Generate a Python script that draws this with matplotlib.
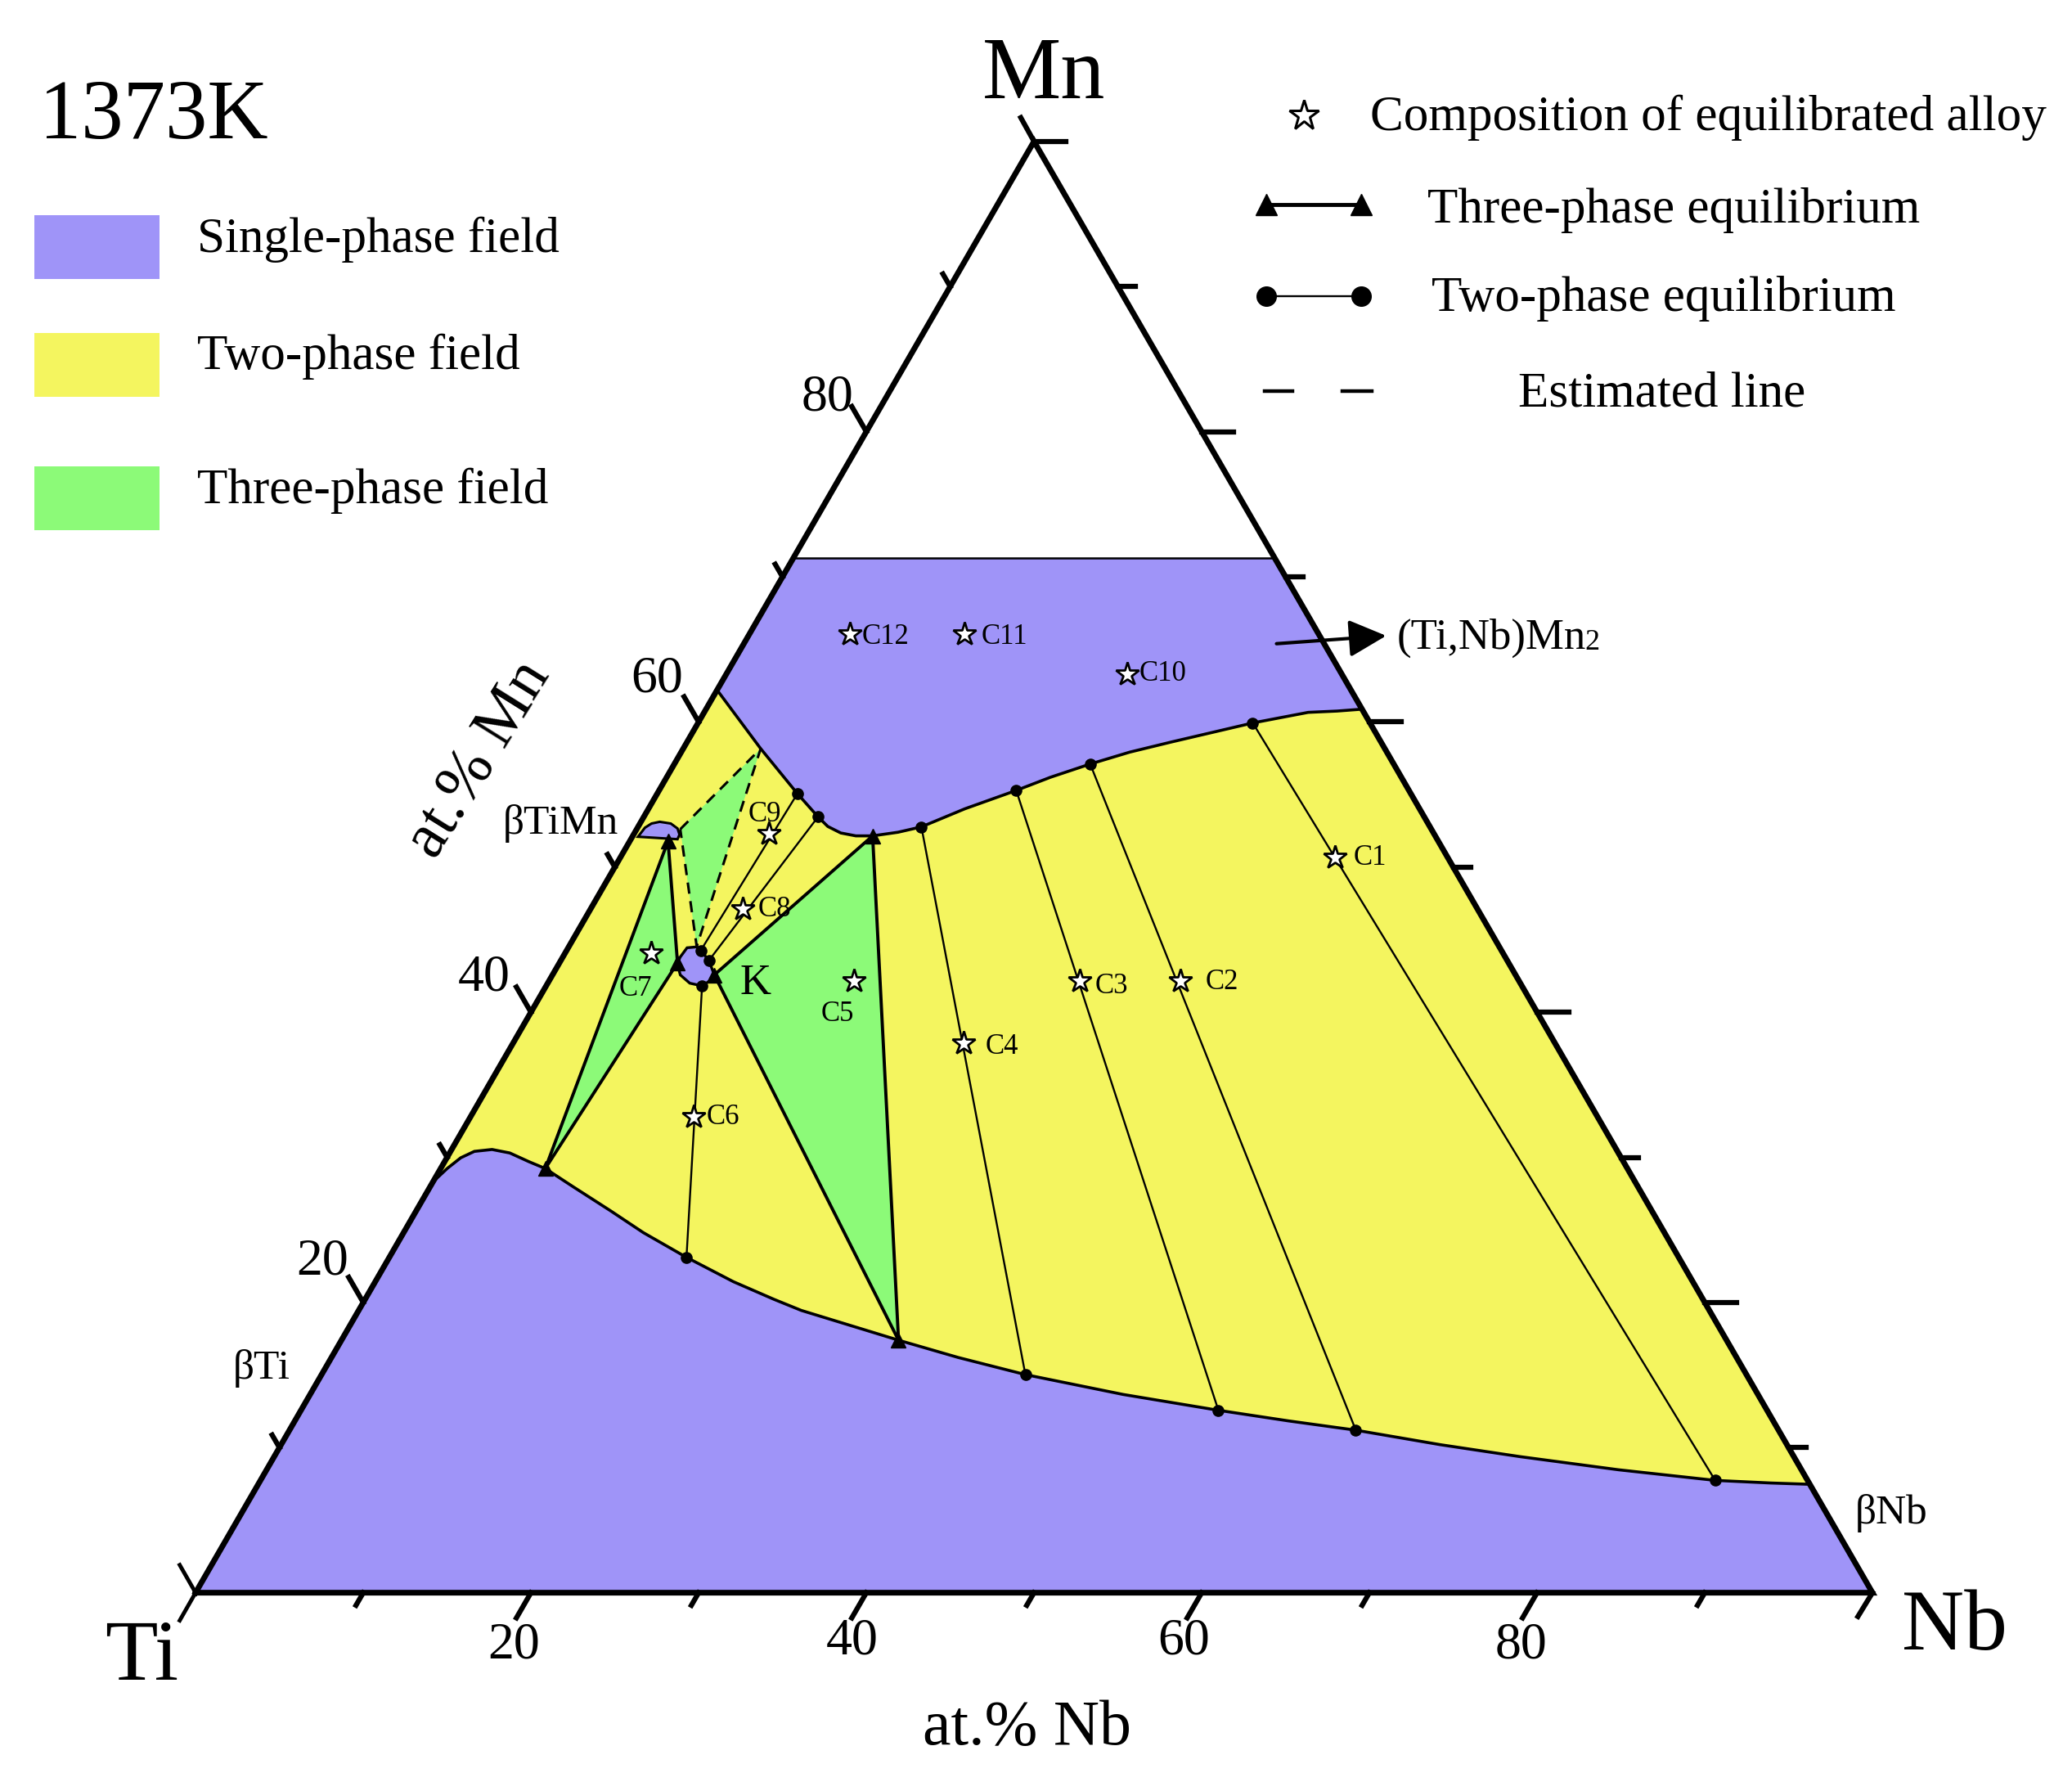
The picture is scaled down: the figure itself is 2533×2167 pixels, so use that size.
import matplotlib
matplotlib.use("Agg")
import matplotlib.pyplot as plt
from matplotlib.patches import Polygon, Rectangle

plt.rcParams['font.family'] = ['Liberation Serif', 'DejaVu Sans']

PURPLE = '#9F94F8'
YELLOW = '#F4F55F'
GREEN = '#8CFA78'

# all compositions in at.% : (Nb, Mn)
upper_nb = [39.12, 37.7, 36.02, 33.08, 28.92, 26.75, 24.8, 22.89, 21.3, 18.86, 16.9, 15.69, 14.3, 13.3, 12.3, 11.3, 10.39, 9.35, 8.36, 6.55, 4.62, 0.0]
upper_mn = [60.88, 60.75, 60.66, 59.93, 58.63, 57.92, 57.1, 56.19, 55.28, 54.01, 52.77, 52.4, 52.15, 52.15, 52.35, 52.8, 53.46, 54.28, 55.06, 56.56, 58.16, 62.2]

lower_nb = [0.0, 0.39, 0.83, 1.42, 2.41, 3.59, 5.03, 6.24, 8.48, 11.6, 14.3, 17.72, 21.36, 24.4, 26.4, 33.22, 37.37, 41.97, 48.49, 54.71, 59.25, 63.59, 69.13, 74.27, 80.63, 86.75, 90.15, 92.53]
lower_mn = [28.3, 29.23, 29.97, 30.41, 30.54, 30.3, 29.7, 29.23, 28.0, 26.31, 24.81, 23.11, 21.43, 20.21, 19.45, 17.4, 16.21, 15.03, 13.66, 12.57, 11.84, 11.2, 10.2, 9.38, 8.47, 7.74, 7.56, 7.47]

compound_mn = 71.3

k_nb = [7.08, 7.0, 7.09, 7.63, 8.0, 8.83, 9.65, 9.6, 9.3, 8.47, 7.62]
k_mn = [43.31, 43.79, 44.44, 44.5, 44.26, 43.56, 42.57, 42.19, 41.81, 42.0, 42.57]

timn_nb = [0.34, 0.44, 0.69, 1.12, 1.84, 2.41, 2.74, 2.78]
timn_mn = [52.09, 52.71, 53.0, 53.12, 53.0, 52.66, 52.24, 51.92]

tri_c5_nb = [14.3, 9.65, 33.22]
tri_c5_mn = [52.15, 42.57, 17.4]
tri_c7_nb = [2.28, 7.04, 6.24]
tri_c7_mn = [51.79, 43.4, 29.23]
tri_est_nb = [2.6, 4.62, 7.62]
tri_est_mn = [52.61, 58.16, 44.53]

# two-phase tie lines: Nb/Mn start, Nb/Mn end
tie_nb0 = [33.08, 24.8, 21.3, 16.9, 9.3, 8.83, 8.0]
tie_mn0 = [59.93, 57.1, 55.28, 52.77, 41.81, 43.56, 44.26]
tie_nb1 = [86.75, 63.59, 54.71, 41.97, 17.72, 10.39, 8.36]
tie_mn1 = [7.74, 11.2, 12.57, 15.03, 23.11, 53.46, 55.06]

alloy_names = ['C1', 'C2', 'C3', 'C4', 'C5', 'C6', 'C7', 'C8', 'C9', 'C10', 'C11', 'C12']
alloy_nb = [42.61, 37.62, 31.63, 26.84, 18.16, 13.31, 5.15, 9.08, 8.06, 23.91, 12.85, 6.0]
alloy_mn = [50.64, 42.17, 42.17, 37.89, 42.17, 32.79, 44.08, 47.09, 52.28, 63.3, 66.03, 66.03]
alloy_label_xy = [(1037, 649), (925, 743), (841, 746), (758, 792), (634, 767), (547, 845),
                  (481, 748), (586, 688), (579, 616), (880, 510), (760, 482), (670, 482)]

tick_values = [10, 20, 30, 40, 50, 60, 70, 80, 90]
tick_labels = ['20', '40', '60', '80']
nb_label_xy = [(389, 1245), (645, 1242), (896, 1242), (1151, 1245)]
mn_label_xy = [(244, 955), (366, 740), (497, 514), (626, 301)]

legend_fields = ['Single-phase field', 'Two-phase field', 'Three-phase field']

# triangle corners on the canvas
TI_X, NB_X, BASE_Y, TOP_Y = 148.0, 1417.0, 1205.0, 107.0


def to_xy(nb, mn):
    x = TI_X + (NB_X - TI_X) * (nb + mn / 2) / 100
    y = BASE_Y - (BASE_Y - TOP_Y) * mn / 100
    return x, y


def pts(nbs, mns):
    return [to_xy(a, b) for a, b in zip(nbs, mns)]


fig = plt.figure(figsize=(25.33, 21.67), dpi=100)
ax = fig.add_axes([0, 0, 1, 1])
ax.set_xlim(0, 1568)
ax.set_ylim(1341.4, 0)
ax.axis('off')

upper = pts(upper_nb, upper_mn)
lower = pts(lower_nb, lower_mn)

# fields
ax.add_patch(Polygon(pts([0, 100, 100 - compound_mn, 0], [0, 0, compound_mn, compound_mn]), fc=PURPLE, ec='none', zorder=1))
ax.add_patch(Polygon(upper + lower, fc=YELLOW, ec='none', zorder=2))
ax.add_patch(Polygon(pts(tri_c5_nb, tri_c5_mn), fc=GREEN, ec='none', zorder=3))
ax.add_patch(Polygon(pts(tri_c7_nb, tri_c7_mn), fc=GREEN, ec='none', zorder=3))
ax.add_patch(Polygon(pts(tri_est_nb, tri_est_mn), fc=GREEN, ec='none', zorder=3))

# phase boundaries
ax.plot(*zip(*upper), color='k', lw=2.6, zorder=5)
ax.plot(*zip(*lower), color='k', lw=2.6, zorder=5)
ax.plot(*zip(to_xy(0, compound_mn), to_xy(100 - compound_mn, compound_mn)), color='k', lw=1.8, zorder=5)

# tie lines
for n0, m0, n1, m1 in zip(tie_nb0, tie_mn0, tie_nb1, tie_mn1):
    x0, y0 = to_xy(n0, m0)
    x1, y1 = to_xy(n1, m1)
    ax.plot([x0, x1], [y0, y1], color='k', lw=1.7, zorder=6)
    ax.plot([x0, x1], [y0, y1], ls='none', marker='o', ms=9.5, color='k', zorder=8)

# three-phase triangles
for nbs, mns in [(tri_c5_nb, tri_c5_mn), (tri_c7_nb, tri_c7_mn)]:
    p = pts(nbs, mns)
    xs, ys = zip(*(p + p[:1]))
    ax.plot(xs, ys, color='k', lw=2.8, zorder=6)
    ax.plot(xs[:3], ys[:3], ls='none', marker='^', ms=13, color='k', zorder=8)

# estimated triangle
p = pts(tri_est_nb, tri_est_mn)
xs, ys = zip(*(p + p[:1]))
ax.plot(xs, ys, color='k', lw=2.2, dashes=(4.5, 3), zorder=6)

# small single-phase bubbles
ax.add_patch(Polygon(pts(k_nb, k_mn), fc=PURPLE, ec='k', lw=2.4, zorder=7))
ax.add_patch(Polygon(pts(timn_nb, timn_mn), fc=PURPLE, ec='k', lw=2.2, zorder=7))

# triangle frame and ticks
frame = pts([0, 100, 0, 0], [0, 0, 100, 0])
fx, fy = zip(*frame)
ax.plot(fx, fy, color='k', lw=5, solid_joinstyle='miter', zorder=9)

for v in tick_values:
    d = 22 if v % 20 == 0 else 11
    x, y = to_xy(0, v)
    ax.plot([x, x - d * 0.5], [y, y - d * 0.866], color='k', lw=4.5, zorder=9)
    x, y = to_xy(v, 0)
    ax.plot([x, x - d * 0.5], [y, y + d * 0.866], color='k', lw=4.5, zorder=9)
    x, y = to_xy(100 - v, v)
    ax.plot([x, x + d + 2], [y, y], color='k', lw=4.5, zorder=9)

# corner ticks
x, y = to_xy(0, 0)
ax.plot([x, x - 12], [y, y - 21], color='k', lw=3.5, zorder=9)
ax.plot([x, x - 12], [y, y + 21], color='k', lw=3.5, zorder=9)
x, y = to_xy(100, 0)
ax.plot([x, x - 11], [y, y + 18], color='k', lw=4.5, zorder=9)
x, y = to_xy(0, 100)
ax.plot([x, x - 10], [y, y - 18], color='k', lw=4.5, zorder=9)
ax.plot([x, x + 24], [y, y], color='k', lw=4.5, zorder=9)

# alloys
for name, nb, mn, (lx, ly) in zip(alloy_names, alloy_nb, alloy_mn, alloy_label_xy):
    x, y = to_xy(nb, mn)
    ax.plot(x, y, marker='*', ms=21, mfc='white', mec='k', mew=2, ls='none', zorder=10)
    ax.text(lx, ly, name, fontsize=25, ha='center', va='center', zorder=11)

for lab, (lx, ly) in zip(tick_labels, nb_label_xy):
    ax.text(lx, ly, lab, fontsize=46, ha='center', va='center')
for lab, (lx, ly) in zip(tick_labels, mn_label_xy):
    ax.text(lx, ly, lab, fontsize=46, ha='center', va='center')

# names
ax.text(30, 89, '1373K', fontsize=74, ha='left', va='center')
ax.text(790, 58, 'Mn', fontsize=78, ha='center', va='center')
ax.text(107, 1255, 'Ti', fontsize=76, ha='center', va='center')
ax.text(1479, 1232, 'Nb', fontsize=76, ha='center', va='center')
ax.text(777, 1308, 'at.% Nb', fontsize=56, ha='center', va='center')
ax.text(363, 575, 'at.% Mn', fontsize=56, rotation=58, ha='center', va='center', rotation_mode='anchor')
ax.text(424, 623, 'βTiMn', fontsize=37, ha='center', va='center')
ax.text(198, 1035, 'βTi', fontsize=37, ha='center', va='center')
ax.text(1431, 1145, 'βNb', fontsize=37, ha='center', va='center')
ax.text(572, 744, 'K', fontsize=38, ha='center', va='center', zorder=11)
ax.text(1057, 483, '(Ti,Nb)Mn', fontsize=38, ha='left', va='center')
ax.text(1199, 486, '2', fontsize=26, ha='left', va='center')
ax.annotate('', xy=(1049, 481), xytext=(966, 487),
            arrowprops=dict(arrowstyle='-|>', color='k', lw=3, mutation_scale=70, shrinkA=0, shrinkB=0), zorder=12)

# left legend
for name, col, y0 in zip(legend_fields, [PURPLE, YELLOW, GREEN], [163, 252, 353]):
    ax.add_patch(Rectangle((26, y0), 95, 48, fc=col, ec='none'))
    ax.text(149, y0 + 18, name, fontsize=44, ha='left', va='center')

# right legend
ax.plot(987, 87, marker='*', ms=28, mfc='white', mec='k', mew=2.2, ls='none')
ax.text(1037, 89, 'Composition of equilibrated alloy', fontsize=44, ha='left', va='center')
ax.plot([958, 1030], [155, 155], color='k', lw=3.5, marker='^', ms=19)
ax.text(1080, 159, 'Three-phase equilibrium', fontsize=44, ha='left', va='center')
ax.plot([958, 1030], [224, 224], color='k', lw=1.7, marker='o', ms=17)
ax.text(1083, 226, 'Two-phase equilibrium', fontsize=44, ha='left', va='center')
ax.plot([957, 978], [296, 296], color='k', lw=3.2)
ax.plot([1016, 1038], [296, 296], color='k', lw=3.2)
ax.text(1149, 298, 'Estimated line', fontsize=44, ha='left', va='center')

fig.savefig('out.png', dpi=100)
